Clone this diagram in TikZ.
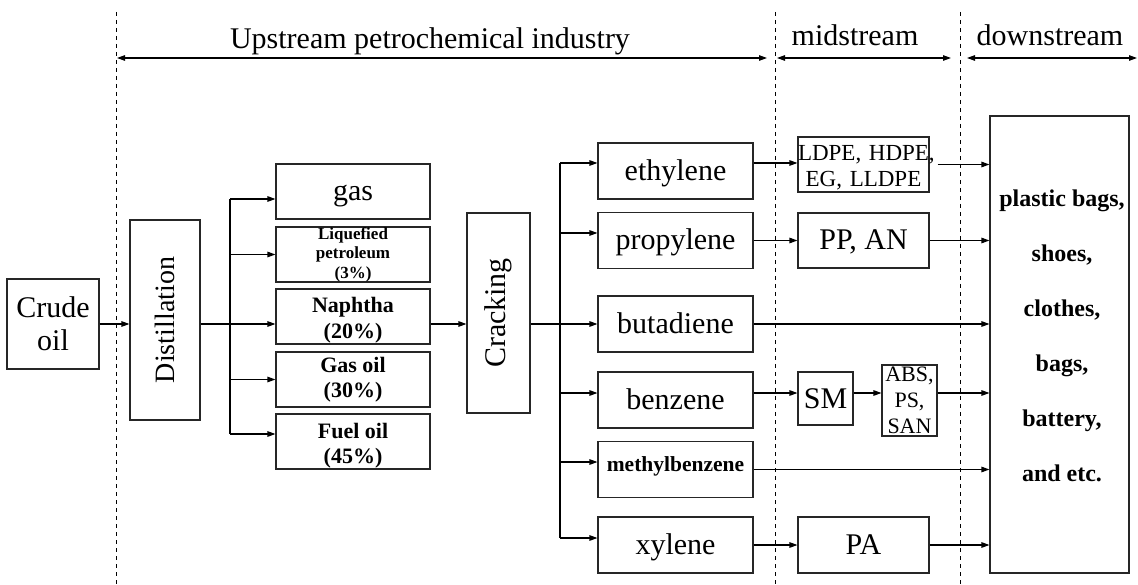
\documentclass[tikz,border=0pt]{standalone}
\usepackage{fontspec}
\setmainfont{Liberation Serif}
\usetikzlibrary{arrows.meta,calc}

\begin{document}
\begin{tikzpicture}[x=1pt,y=-1pt,
  >={Triangle[length=8pt,width=5.5pt]},line width=1.1pt,
  box/.style={draw=black!85,inner sep=0pt,align=center},
  one/.style={text height=24pt,text depth=5pt},
  bigf/.style={font=\fontsize{30}{33}\selectfont},
  midf/.style={font=\bfseries\fontsize{22}{25}\selectfont},
  frac/.style={box,midf,minimum width=154pt,minimum height=55pt},
  prod/.style={box,bigf,one,minimum width=155pt,minimum height=56pt},
  mstr/.style={box,bigf,minimum width=131pt,minimum height=55pt},
  sep/.style={dash pattern=on 4pt off 4pt,line width=0.9pt}
]
\useasboundingbox (0,0) rectangle (1138,585);

% stage borders
\foreach \x/\n in {116/1,775/2,960/3} {
  \coordinate (s\n t) at (\x,12);
  \coordinate (s\n b) at (\x,585);
  \draw[sep] (s\n t) -- (s\n b);
}
\draw[<->] (117,58) -- (767,58);
\draw[<->] (777,58) -- (951,58);
\draw[<->] (967,58) -- (1137,58);
\node[bigf,anchor=base] (up) at (430,49) {Upstream petrochemical industry};
\node[bigf,anchor=base] (mid) at (855,46) {midstream};
\node[bigf,anchor=base] (down) at (1050,46) {downstream};

\node[box,bigf,minimum width=92pt,minimum height=90pt] (crude) at (53,324) {Crude\\oil};
\node[box,font=\fontsize{28}{30}\selectfont,minimum width=70pt,minimum height=200pt] (dist) at (165,320) {\rotatebox{90}{Distillation}};

\node[frac,bigf,one] (gas) at (353,191.5) {gas};
\node[frac,font=\bfseries\fontsize{17}{19.5}\selectfont] (liq) at (353,254.5) {Liquefied\\petroleum\\(3\%)};
\node[frac,text height=47pt,text depth=4pt] (naph) at (353,316.5) {Naphtha\\(20\%)};
\node[frac] (goil) at (353,379.5) {Gas oil\\(30\%)};
\node[frac,text height=47pt,text depth=4pt] (foil) at (353,441.5) {Fuel oil\\(45\%)};

\node[box,bigf,minimum width=63pt,minimum height=200pt] (crack) at (498.5,313) {\rotatebox{90}{Cracking}};

\node[prod] (eth) at (675.5,171) {ethylene};
\node[prod] (prop) at (675.5,240.5) {propylene};
\node[prod] (buta) at (675.5,324) {butadiene};
\node[prod] (benz) at (675.5,400) {benzene};
\node[prod,font=\bfseries\fontsize{21.5}{24}\selectfont,text height=12pt,text depth=8pt] (mb) at (675.5,469.5) {methylbenzene};
\node[prod] (xyl) at (675.5,545) {xylene};

\node[mstr,font=\fontsize{23}{26}\selectfont,text width=131pt,text height=21pt,text depth=29pt] (lpe) at (863.5,164.5) {\mbox{LDPE, HDPE,}\\EG, LLDPE};
\node[mstr,one] (pp) at (863.5,240.5) {PP, AN};
\node[box,bigf,one,minimum width=55pt,minimum height=53pt] (sm) at (825.5,398.5) {SM};
\node[box,font=\fontsize{22}{26}\selectfont,minimum width=55pt,minimum height=71pt] (abs) at (909.5,400.5) {ABS,\\PS,\\SAN};
\node[mstr,one,minimum height=56pt] (pa) at (863.5,545) {PA};

\node[box,minimum width=139pt,minimum height=457pt] (ds) at (1059.5,344.5) {};
\node[align=center,font=\bfseries\fontsize{24}{55}\selectfont] (dstext) at ([xshift=2.5pt,yshift=9pt]ds.center)
  {plastic bags,\\shoes,\\clothes,\\bags,\\battery,\\and etc.};

% distillation
\coordinate (dtop) at (230,199);
\coordinate (dbot) at (230,434);
\draw[->] (crude.east) -- (crude.east -| dist.west);
\draw (dtop) -- (dbot);
\draw (dist.east |- crude.east) -- (dtop |- crude.east);
\foreach \n/\s in {gas/7.5,liq/0,naph/7.5,goil/0,foil/-7.5} {
  \coordinate (hit) at ($(\n.west)+(0,\s)$);
  \draw[->] (hit -| dtop) -- (hit);
}

% cracking
\coordinate (nq) at ($(naph.east)+(0,7.5)$);
\draw[->] (nq) -- (nq -| crack.west);
\coordinate (ctop) at (560,163);
\coordinate (cbot) at (560,538);
\draw (ctop) -- (cbot);
\draw (crack.east |- nq) -- (ctop |- nq);
\foreach \n/\s in {eth/-8,prop/-7.5,buta/0,benz/-7,mb/-7.5,xyl/-7} {
  \coordinate (hit) at ($(\n.west)+(0,\s)$);
  \draw[->] (hit -| ctop) -- (hit);
}

% mid- and downstream
\coordinate (eo) at ($(eth.east)+(0,-8)$);
\draw[->] (eo) -- (eo -| lpe.west);
\draw[->] (prop.east) -- (prop.east -| pp.west);
\coordinate (bo) at ($(benz.east)+(0,-7)$);
\draw[->] (bo) -- (bo -| sm.west);
\draw[->] (bo -| sm.east) -- (bo -| abs.west);
\draw[->] (xyl.east) -- (xyl.east -| pa.west);
\draw[->] ([xshift=8pt]lpe.east) -- (lpe.east -| ds.west);
\draw[->] (pp.east) -- (pp.east -| ds.west);
\draw[->] (buta.east) -- (buta.east -| ds.west);
\draw[->] (bo -| abs.east) -- (bo -| ds.west);
\draw[->] (mb.east) -- (mb.east -| ds.west);
\draw[->] (pa.east) -- (pa.east -| ds.west);
\end{tikzpicture}
\end{document}
